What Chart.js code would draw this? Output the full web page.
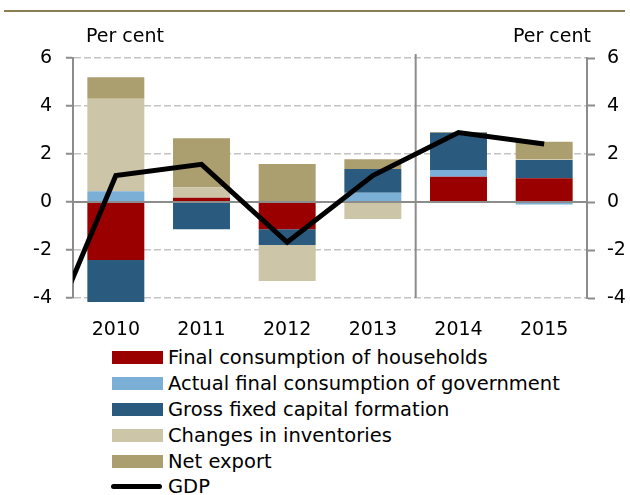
<!DOCTYPE html>
<html>
<head>
<meta charset="utf-8">
<script src="https://cdn.jsdelivr.net/npm/chart.js@4"></script>
<style>
  body { margin: 0; background: #fff; font-family: "DejaVu Sans", sans-serif; }
  #wrap { position: relative; width: 630px; height: 495px; overflow: hidden; }
  #rule { position: absolute; left: 4px; top: 10px; width: 621px; height: 2px; background: #8a7d50; }
  #chart { position: absolute; left: 0; top: 0; }
  #legend { position: absolute; left: 110px; top: 345px; }
  .item { height: 25.8px; display: flex; align-items: center; font-size: 19.5px; color: #000; white-space: nowrap; }
  .sw { width: 51px; height: 13px; margin-left: 2px; margin-right: 5px; }
  .ln { width: 51px; height: 5px; border-radius: 3px; background: #000; margin-left: 1px; margin-right: 6px; }
</style>
</head>
<body>
<div id="wrap">
  <div id="rule"></div>
  <canvas id="chart" width="630" height="345"></canvas>
  <div id="legend"></div>
</div>
<script>
// categories (2009 only carries the GDP point that enters from the left edge)
const years = ['2009', '2010', '2011', '2012', '2013', '2014', '2015'];

// contributions, percentage points
const households  = [null, -2.42, 0.18, -1.14, 0.00, 1.05, 0.99];
const government  = [null, 0.45, 0.00, 0.00, 0.39, 0.28, -0.10];
const gfcf        = [null, -1.75, -1.14, -0.65, 0.99, 1.56, 0.76];
const inventories = [null, 3.85, 0.43, -1.50, -0.71, 0.00, 0.03];
const netExport   = [null, 0.90, 2.05, 1.58, 0.40, 0.03, 0.73];
const gdp         = [-7.4, 1.10, 1.57, -1.68, 1.10, 2.89, 2.42];

const yTicks = [-4, -2, 0, 2, 4, 6];

const names = [
  'Final consumption of households',
  'Actual final consumption of government',
  'Gross fixed capital formation',
  'Changes in inventories',
  'Net export',
  'GDP'
];
const colours = ['#9b0000', '#7bafd5', '#2a5b7f', '#cdc5a8', '#ab9e6f', '#000000'];

const axisGrey = '#8c8c8c';
const font = { family: 'DejaVu Sans', size: 19 };

// little helper for bar datasets
function bar(i, data) {
  return {
    type: 'bar',
    label: names[i],
    data: data,
    backgroundColor: colours[i],
    stack: 'a',
    order: 2,
    clip: false,
    barPercentage: 0.665,
    categoryPercentage: 1
  };
}

// draws the separator, zero line and the two "Per cent" labels
const extras = {
  id: 'extras',
  beforeDatasetsDraw(chart) {
    const { ctx, chartArea, scales } = chart;
    const x = (scales.x.getPixelForValue(4) + scales.x.getPixelForValue(5)) / 2;
    ctx.save();
    ctx.strokeStyle = axisGrey;
    ctx.lineWidth = 2;
    ctx.beginPath();
    ctx.moveTo(x, chartArea.top - 4);
    ctx.lineTo(x, chartArea.bottom);
    ctx.stroke();
    ctx.restore();
  },
  beforeDatasetDraw(chart, args) {
    if (args.meta.type !== 'line') return;
    const { ctx, chartArea, scales } = chart;
    const y = scales.y.getPixelForValue(0);
    ctx.save();
    ctx.strokeStyle = axisGrey;
    ctx.lineWidth = 2;
    ctx.beginPath();
    ctx.moveTo(chartArea.left, y);
    ctx.lineTo(chartArea.right, y);
    ctx.stroke();
    ctx.restore();
  },
  afterDraw(chart) {
    const ctx = chart.ctx;
    ctx.save();
    ctx.font = '19px "DejaVu Sans"';
    ctx.fillStyle = '#000';
    ctx.textBaseline = 'middle';
    ctx.textAlign = 'left';
    ctx.fillText('Per cent', 86, 37);
    ctx.textAlign = 'right';
    ctx.fillText('Per cent', 591, 37);
    ctx.restore();
  }
};

new Chart(document.getElementById('chart'), {
  data: {
    labels: years,
    datasets: [
      {
        type: 'line',
        label: names[5],
        data: gdp,
        borderColor: colours[5],
        borderWidth: 5,
        pointRadius: 0,
        tension: 0,
        order: 1
      },
      bar(0, households),
      bar(1, government),
      bar(2, gfcf),
      bar(3, inventories),
      bar(4, netExport)
    ]
  },
  options: {
    responsive: false,
    animation: false,
    layout: { padding: { top: 58, left: 0, right: 0, bottom: 0 } },
    plugins: { legend: { display: false }, tooltip: { enabled: false } },
    scales: {
      x: {
        min: '2010',
        max: '2015',
        offset: true,
        grid: { display: false, drawTicks: false },
        border: { display: false },
        ticks: { font: font, color: '#000', padding: 21, maxRotation: 0 },
        afterFit: s => { s.height = 47; }
      },
      y: {
        position: 'left',
        stacked: true,
        min: yTicks[0],
        max: yTicks[yTicks.length - 1],
        afterBuildTicks: s => { s.ticks = yTicks.map(v => ({ value: v })); },
        grid: { color: '#c4c4c4', lineWidth: 1.5, tickColor: axisGrey, tickWidth: 2, tickLength: 7, tickBorderDash: [] },
        border: { color: axisGrey, width: 2, dash: [7, 3] },
        ticks: { font: font, color: '#000', padding: 14 },
        afterFit: s => { s.width = 73; }
      },
      y2: {
        position: 'right',
        min: yTicks[0],
        max: yTicks[yTicks.length - 1],
        afterBuildTicks: s => { s.ticks = yTicks.map(v => ({ value: v })); },
        grid: { drawOnChartArea: false, tickColor: axisGrey, tickWidth: 2, tickLength: 8 },
        border: { color: axisGrey, width: 2 },
        ticks: { font: font, color: '#000', padding: 12 },
        afterFit: s => { s.width = 43; }
      }
    }
  },
  plugins: [extras]
});

// legend built from the same names and colours
const legend = document.getElementById('legend');
names.forEach((n, i) => {
  const row = document.createElement('div');
  row.className = 'item';
  const mark = document.createElement('div');
  if (i === 5) {
    mark.className = 'ln';
  } else {
    mark.className = 'sw';
    mark.style.background = colours[i];
  }
  row.appendChild(mark);
  row.appendChild(document.createTextNode(n));
  legend.appendChild(row);
});
</script>
</body>
</html>
